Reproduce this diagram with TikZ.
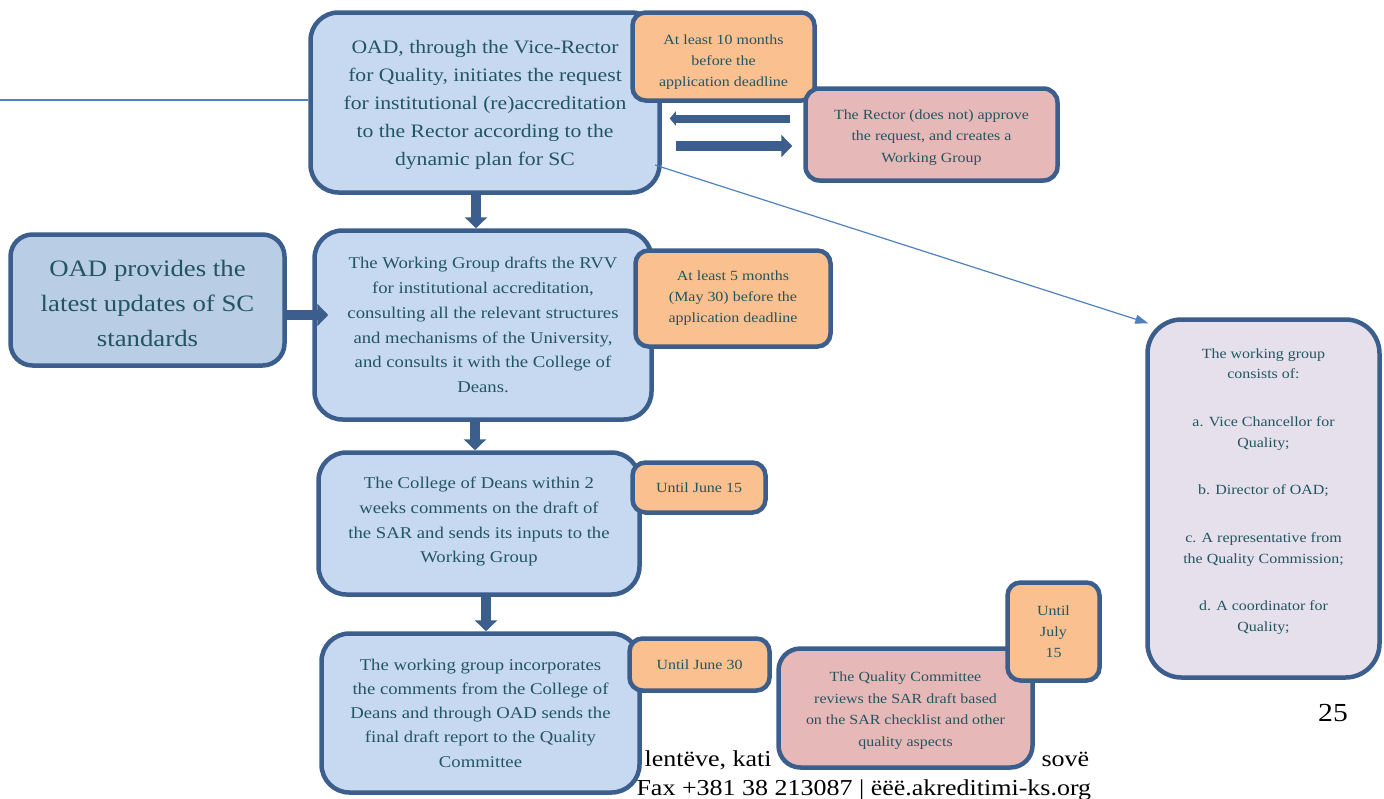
\documentclass[tikz,border=0pt]{standalone}
\usepackage{fontspec}
\setmainfont{Liberation Serif}[FakeStretch=1.14]
\usetikzlibrary{arrows.meta}
\definecolor{boxline}{RGB}{59,94,140}
\definecolor{bluefill}{RGB}{198,217,241}
\definecolor{oadfill}{RGB}{185,205,229}
\definecolor{orangefill}{RGB}{250,192,144}
\definecolor{pinkfill}{RGB}{230,185,184}
\definecolor{lilacfill}{RGB}{229,224,236}
\definecolor{txt}{RGB}{35,85,96}
\definecolor{thinline}{RGB}{79,129,189}
\newcommand{\lift}[1]{\rule{0pt}{#1}}
\newcommand{\sink}[1]{\rule[-#1]{0pt}{0pt}}
\begin{document}
\begin{tikzpicture}[x=1pt,y=-1pt,
    stepbox/.style={draw=boxline,line width=4.5pt,fill=bluefill,rounded corners=28pt,text=txt,align=center,inner sep=0pt},
    datebox/.style={stepbox,fill=orangefill,rounded corners=13pt,font=\fontsize{14}{21}\selectfont},
    notebox/.style={stepbox,fill=pinkfill,rounded corners=14pt,font=\fontsize{14}{21.5}\selectfont},
    bigarrow/.style={boxline,line width=10pt,-{Triangle[length=11pt,width=22pt]}},
    thin/.style={thinline,line width=1.2pt}]
    \useasboundingbox (0,0) rectangle (1384,798);

    % page footer, partly hidden by the boxes
    \node[anchor=base west,font=\fontsize{22.8}{26}\selectfont] (foota) at (641,766) {lentëve, kati};
    \node[anchor=base west,font=\fontsize{22.8}{26}\selectfont] (footb) at (1038,766) {sovë};
    \node[anchor=base west,font=\fontsize{22.8}{26}\selectfont] (footc) at (633,795) {Fax +381 38 213087 | ëëë.akreditimi-ks.org};
    \node[font=\fontsize{26}{30}\selectfont] (pnum) at (1333,713) {25};

    \node[stepbox,minimum width=349pt,minimum height=180pt,font=\fontsize{19}{28}\selectfont] (req) at (485,102.5)
        {\lift{18pt}OAD, through the Vice-Rector\\for Quality, initiates the request\\for institutional (re)accreditation\\to the Rector according to the\\dynamic plan for SC};
    \node[stepbox,fill=lilacfill,rounded corners=34pt,minimum width=232pt,minimum height=358pt,font=\fontsize{14}{20.7}\selectfont] (wg) at (1263.5,498.5)
        {The working group\\consists of:\\[27pt]a. Vice Chancellor for\\Quality;\\[27pt]b. Director of OAD;\\[27pt]c. A representative from\\the Quality Commission;\\[27pt]d. A coordinator for\\Quality;\sink{17pt}};
    \coordinate (edge) at (0,100);
    \draw[thin] (edge) -- (edge -| req.west);
    \coordinate (src) at (655,165);
    \draw[thin,-{Triangle[length=13pt,width=9pt]}] (src) -- ([shift={(3,6)}]wg.north west);

    \node[datebox,minimum width=182pt,minimum height=88pt] (dl1) at (723.5,56.5) {\lift{20pt}At least 10 months\\before the\\application deadline};
    \node[notebox,minimum width=252pt,minimum height=92pt] (rector) at (931.5,134.5) {\lift{16pt}The Rector (does not) approve\\the request, and creates a\\Working Group};

    \node[stepbox,fill=oadfill,rounded corners=22pt,minimum width=274pt,minimum height=131pt,font=\fontsize{23.5}{35}\selectfont] (oad) at (147.5,300)
        {\lift{24pt}OAD provides the\\latest updates of SC\\standards};
    \node[stepbox,minimum width=337pt,minimum height=189pt,font=\fontsize{16.4}{24.7}\selectfont] (draft) at (483,325)
        {The Working Group drafts the RVV\\for institutional accreditation,\\consulting all the relevant structures\\and mechanisms of the University,\\and consults it with the College of\\Deans.};
    \node[datebox,minimum width=195pt,minimum height=96pt] (dl2) at (733,298.5) {At least 5 months\\(May 30) before the\\application deadline};

    \node[stepbox,minimum width=321pt,minimum height=142pt,font=\fontsize{16.4}{24.6}\selectfont] (deans) at (479,523.5)
        {The College of Deans within 2\\weeks comments on the draft of\\the SAR and sends its inputs to the\\Working Group\sink{7pt}};
    \node[datebox,minimum width=133pt,minimum height=50pt] (dl3) at (699,487.5) {Until June 15};

    \node[stepbox,minimum width=318pt,minimum height=159pt,font=\fontsize{16.4}{24.3}\selectfont] (final) at (480.5,713)
        {The working group incorporates\\the comments from the College of\\Deans and through OAD sends the\\final draft report to the Quality\\Committee};
    \node[datebox,minimum width=140pt,minimum height=52pt] (dl4) at (699.5,664.5) {Until June 30};
    \node[notebox,rounded corners=22pt,minimum width=254pt,minimum height=119pt] (qc) at (905.5,708)
        {\lift{15pt}The Quality Committee\\reviews the SAR draft based\\on the SAR checklist and other\\quality aspects};
    \node[datebox,minimum width=92pt,minimum height=98pt] (dl5) at (1053.5,631.5) {Until\\July\\15};

    % flow arrows
    \draw[bigarrow] ([xshift=-9pt]req.south) -- ([xshift=-9pt]req.south |- draft.north);
    \draw[bigarrow] ([xshift=-8pt]draft.south) -- ([xshift=-8pt]draft.south |- deans.north);
    \draw[bigarrow] ([xshift=7pt]deans.south) -- ([xshift=7pt]deans.south |- final.north);
    \draw[bigarrow,shorten >=-16pt] ([yshift=-15pt]oad.east) -- ([yshift=-15pt]oad.east -| draft.west);
    \draw[bigarrow,shorten <=14pt,shorten >=11pt] ([yshift=-11.5pt]rector.west -| req.east) -- ([yshift=-11.5pt]rector.west);
    \draw[boxline,line width=8pt,-{Triangle[length=6pt,width=14pt]},shorten <=13pt,shorten >=8pt] ([yshift=16pt]rector.west) -- ([yshift=16pt]rector.west -| req.east);
\end{tikzpicture}
\end{document}
